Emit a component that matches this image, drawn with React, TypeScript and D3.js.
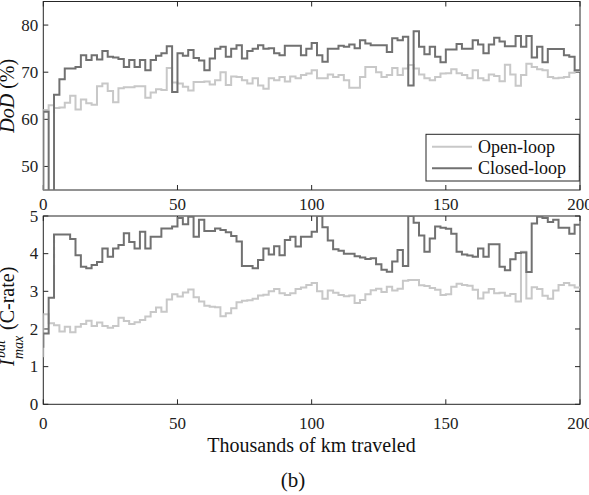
import React from "react";
import * as d3 from "d3";

// ---- data ----
const kmStep = 2; // thousands of km per step
const xTicks = [0, 50, 100, 150, 200];
const dodTicks = [50, 60, 70, 80];
const iTicks = [0, 1, 2, 3, 4, 5];
const seriesNames = ["Open-loop", "Closed-loop"];

const dodOpenStart = 0;
const dodClosedStart = 0;
const dodOpen = [
  62.0, 63.0, 62.4, 62.5, 63.5, 65.0, 62.1, 64.2, 63.4, 63.1,
  67.0, 67.6, 66.0, 63.6, 66.6, 66.8, 66.8, 67.0, 67.0, 64.6,
  65.7, 66.4, 66.2, 70.9, 67.8, 67.6, 66.9, 66.1, 67.9, 67.9,
  68.0, 67.4, 68.3, 70.0, 67.3, 69.1, 69.0, 68.3, 67.6, 68.7,
  67.2, 66.5, 68.7, 68.3, 69.0, 68.0, 69.1, 68.7, 69.4, 69.7,
  70.4, 68.7, 68.7, 69.5, 69.0, 69.4, 68.3, 66.7, 66.7, 69.0,
  71.1, 71.1, 70.0, 69.0, 69.4, 70.9, 69.4, 70.8, 71.5, 70.8,
  69.5, 68.7, 68.3, 69.0, 69.7, 69.8, 70.6, 69.8, 69.4, 68.7,
  70.4, 68.7, 68.3, 69.5, 69.2, 68.1, 71.6, 69.5, 67.1, 69.4,
  71.8, 71.1, 70.6, 70.4, 69.0, 68.7, 68.8, 69.0, 69.9, 70.2,
];
const dodClosed = [
  61.6, 0, 65.2, 68.5, 70.8, 70.8, 71.1, 73.6, 72.6, 73.6,
  72.7, 74.5, 73.3, 73.1, 72.8, 71.1, 72.6, 71.1, 72.6, 70.4,
  72.6, 73.5, 74.0, 75.5, 65.8, 74.0, 73.5, 74.7, 73.0, 72.5,
  70.4, 72.9, 75.0, 75.4, 73.3, 75.0, 75.7, 72.9, 74.5, 75.0,
  75.7, 75.0, 75.1, 74.0, 73.6, 75.6, 75.6, 75.6, 73.6, 75.0,
  76.2, 73.6, 72.2, 75.0, 75.0, 75.6, 75.4, 75.9, 75.1, 76.8,
  76.1, 75.7, 75.7, 75.7, 74.3, 77.2, 76.8, 77.5, 67.2, 78.7,
  75.4, 73.8, 75.4, 73.3, 72.1, 74.8, 74.8, 76.0, 75.0, 75.0,
  76.8, 75.9, 74.0, 75.9, 77.3, 76.5, 75.5, 75.5, 77.7, 75.4,
  77.7, 73.1, 75.4, 72.1, 74.9, 74.9, 74.9, 73.6, 73.3, 70.4,
];

const iOpenStart = 1.25;
const iClosedStart = 1.5;
const iOpen = [
  2.39, 2.15, 2.10, 1.93, 2.06, 1.91, 2.06, 2.13, 2.22, 2.08,
  2.17, 2.08, 2.03, 2.08, 2.30, 2.21, 2.13, 2.18, 2.24, 2.33,
  2.45, 2.57, 2.46, 2.78, 2.92, 2.86, 2.97, 3.05, 2.84, 2.73,
  2.62, 2.59, 2.58, 2.34, 2.42, 2.55, 2.71, 2.75, 2.76, 2.80,
  2.89, 2.91, 3.00, 3.06, 2.95, 2.90, 2.95, 3.06, 3.10, 3.17,
  3.22, 3.00, 2.80, 3.02, 2.96, 2.90, 2.87, 2.89, 2.69, 2.77,
  2.92, 3.03, 3.07, 2.98, 3.12, 3.02, 3.07, 3.28, 3.30, 3.30,
  3.16, 3.14, 3.09, 3.04, 2.90, 2.92, 3.12, 3.20, 3.17, 3.15,
  3.04, 2.81, 2.97, 3.06, 2.95, 2.96, 2.88, 2.93, 2.73, 4.05,
  2.81, 3.11, 3.06, 2.88, 2.80, 3.02, 3.17, 3.22, 3.16, 3.10,
];
const iClosed = [
  1.88, 2.83, 4.51, 4.51, 4.51, 4.39, 3.96, 3.65, 3.61, 3.70,
  3.78, 4.14, 3.92, 4.14, 4.23, 4.54, 4.31, 4.14, 4.58, 4.14,
  4.45, 4.45, 4.67, 4.67, 4.72, 4.95, 4.78, 4.98, 4.45, 4.90,
  4.60, 4.60, 4.67, 4.63, 4.57, 4.47, 4.32, 3.67, 3.67, 3.61,
  3.83, 4.14, 3.98, 4.20, 3.96, 4.36, 4.45, 4.19, 4.45, 4.45,
  4.58, 5.00, 4.70, 4.35, 4.12, 4.08, 4.00, 4.00, 3.93, 3.90,
  3.86, 3.88, 3.72, 3.57, 3.52, 3.79, 4.10, 3.67, 5.00, 4.82,
  4.48, 4.05, 4.40, 4.72, 4.69, 4.66, 4.53, 4.05, 3.98, 3.95,
  3.92, 4.14, 3.92, 4.25, 4.25, 3.65, 3.56, 3.85, 4.02, 4.03,
  3.51, 4.80, 4.98, 4.95, 4.84, 4.90, 4.69, 4.69, 4.53, 4.77,
];

// ---- layout / style ----
const W = 589;
const H = 495;
const FONT = "'Liberation Serif', 'Times New Roman', serif";
const AX = "#262626";
const LIGHT = "#c8c8c8";
const DARK = "#717171";

const x = d3.scaleLinear().domain([0, 200]).range([43.3, 580]);
const yTop = d3.scaleLinear().domain([45, 85]).range([190, 1.5]);
const yBot = d3.scaleLinear().domain([0, 5]).range([404.3, 216]);

function stairPoints(start: number, vals: number[]): [number, number][] {
  const pts: [number, number][] = [[0, start]];
  vals.forEach((v, i) => pts.push([i * kmStep, v]));
  pts.push([vals.length * kmStep, vals[vals.length - 1]]);
  return pts;
}

function Axes({ y, yTicks, id, xLabelY }: { y: d3.ScaleLinear<number, number>; yTicks: number[]; id: string; xLabelY: number }) {
  const [x0, x1] = x.range();
  const [y0, y1] = y.range(); // bottom, top
  const tl = 5;
  return (
    <g>
      <defs>
        <clipPath id={id}>
          <rect x={x0} y={y1} width={x1 - x0} height={y0 - y1} />
        </clipPath>
      </defs>
      <rect x={x0} y={y1} width={x1 - x0} height={y0 - y1} fill="white" stroke={AX} strokeWidth={1} />
      {xTicks.map((t) => (
        <g key={"x" + t}>
          <line x1={x(t)} x2={x(t)} y1={y0} y2={y0 - tl} stroke={AX} strokeWidth={1} />
          <line x1={x(t)} x2={x(t)} y1={y1} y2={y1 + tl} stroke={AX} strokeWidth={1} />
          <text x={x(t)} y={xLabelY} textAnchor="middle" fontFamily={FONT} fontSize={17} fill="#222">
            {t}
          </text>
        </g>
      ))}
      {yTicks.map((t) => (
        <g key={"y" + t}>
          <line x1={x0} x2={x0 + tl} y1={y(t)} y2={y(t)} stroke={AX} strokeWidth={1} />
          <line x1={x1} x2={x1 - tl} y1={y(t)} y2={y(t)} stroke={AX} strokeWidth={1} />
          <text x={x0 - 5} y={y(t) + 5.8} textAnchor="end" fontFamily={FONT} fontSize={17} fill="#222">
            {t}
          </text>
        </g>
      ))}
    </g>
  );
}

export default function App() {
  const lineTop = d3
    .line<[number, number]>()
    .x((d) => x(d[0]))
    .y((d) => yTop(d[1]))
    .curve(d3.curveStepAfter);
  const lineBot = d3
    .line<[number, number]>()
    .x((d) => x(d[0]))
    .y((d) => yBot(d[1]))
    .curve(d3.curveStepAfter);

  const legX = 426;
  const legY = 134.3;

  return (
    <svg
      width={W}
      height={H}
      viewBox={`0 0 ${W} ${H}`}
      style={{ position: "absolute", left: 0, top: 0, background: "white", display: "block" }}
    >
      <rect x={0} y={0} width={W} height={H} fill="white" />

      {/* top axes */}
      <Axes y={yTop} yTicks={dodTicks} id="clipTop" xLabelY={210} />
      <g clipPath="url(#clipTop)" fill="none" strokeWidth={2} strokeLinejoin="miter">
        <path d={lineTop(stairPoints(dodOpenStart, dodOpen)) || ""} stroke={LIGHT} />
        <path d={lineTop(stairPoints(dodClosedStart, dodClosed)) || ""} stroke={DARK} />
      </g>

      {/* legend */}
      <g>
        <rect x={legX} y={legY} width={579.3 - legX} height={181 - legY} fill="white" stroke={AX} strokeWidth={1} />
        <line x1={432} x2={472} y1={146.7} y2={146.7} stroke={LIGHT} strokeWidth={2} />
        <text x={478} y={152.5} fontFamily={FONT} fontSize={18} fill="#111">
          {seriesNames[0]}
        </text>
        <line x1={432} x2={472} y1={168.3} y2={168.3} stroke={DARK} strokeWidth={2} />
        <text x={478} y={174} fontFamily={FONT} fontSize={18} fill="#111">
          {seriesNames[1]}
        </text>
      </g>

      {/* bottom axes */}
      <Axes y={yBot} yTicks={iTicks} id="clipBot" xLabelY={428.5} />
      <g clipPath="url(#clipBot)" fill="none" strokeWidth={2} strokeLinejoin="miter">
        <path d={lineBot(stairPoints(iOpenStart, iOpen)) || ""} stroke={LIGHT} />
        <path d={lineBot(stairPoints(iClosedStart, iClosed)) || ""} stroke={DARK} />
      </g>

      {/* y labels */}
      <text
        transform={`translate(13.5, ${(yTop.range()[0] + yTop.range()[1]) / 2}) rotate(-90)`}
        textAnchor="middle"
        fontFamily={FONT}
        fontSize={20}
        fill="#111"
      >
        <tspan fontStyle="italic">DoD</tspan>
        <tspan> (%)</tspan>
      </text>
      <g transform={`translate(13.5, 366) rotate(-90)`} fontFamily={FONT} fill="#111">
        <text x={0} y={0} fontSize={20} fontStyle="italic">I</text>
        <text x={8} y={-9} fontSize={14} fontStyle="italic">bat</text>
        <text x={7} y={9} fontSize={14} fontStyle="italic">max</text>
        <text x={36} y={0} fontSize={20}>(C-rate)</text>
      </g>

      {/* x label and caption */}
      <text x={311.5} y={452} textAnchor="middle" fontFamily={FONT} fontSize={20} fill="#111">
        Thousands of km traveled
      </text>
      <text x={293} y={487} textAnchor="middle" fontFamily={FONT} fontSize={21} fill="#111">
        (b)
      </text>
    </svg>
  );
}
